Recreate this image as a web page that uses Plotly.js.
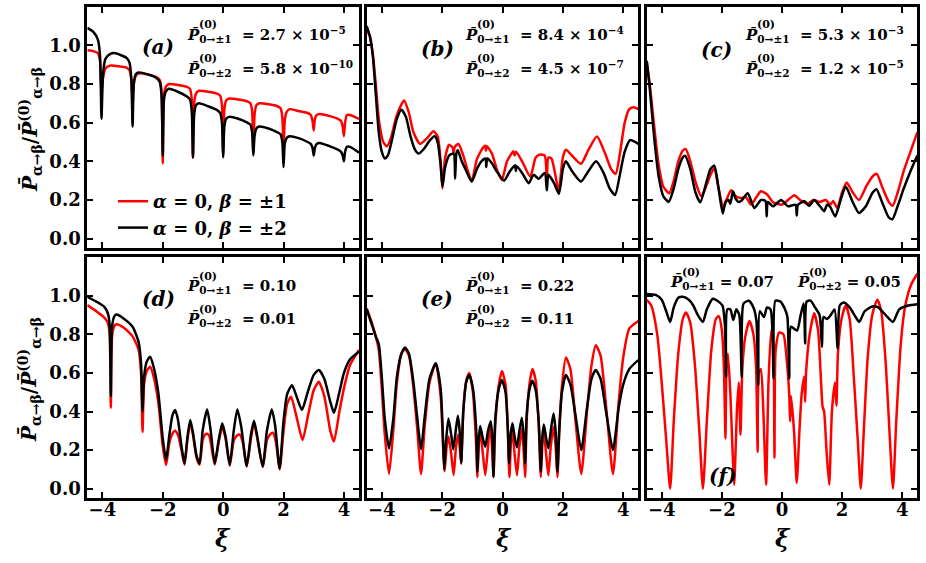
<!DOCTYPE html>
<html>
<head>
<meta charset="utf-8">
<script src="https://cdn.plot.ly/plotly-3.0.1.min.js"></script>
<style>
  html, body { margin: 0; padding: 0; background: #fff; }
  #plot { width: 926px; height: 563px; }
</style>
</head>
<body>
<div id="plot"></div>
<script>
// ---- data (xi, normalised probability) ----
// panel (a)
var xiA = [-4.5,-4.3,-4.15,-4.08,-4.03,-3.98,-3.9,-3.75,-3.6,-3.4,-3.2,-3.1,-3.04,-3.0,-2.96,-2.9,-2.8,-2.5,-2.2,-2.1,-2.04,-2.0,-1.96,-1.9,-1.8,-1.5,-1.2,-1.1,-1.04,-1.0,-0.96,-0.9,-0.8,-0.5,-0.2,-0.1,-0.04,0.0,0.04,0.1,0.2,0.5,0.8,0.9,0.96,1.0,1.04,1.1,1.2,1.5,1.8,1.9,1.96,2.0,2.04,2.1,2.2,2.5,2.8,2.9,2.96,3.0,3.04,3.1,3.2,3.5,3.8,3.9,3.96,4.0,4.04,4.1,4.2,4.5];
var redA = [0.975,0.97,0.96,0.92,0.75,0.83,0.88,0.895,0.895,0.89,0.885,0.87,0.82,0.70,0.80,0.84,0.855,0.85,0.835,0.82,0.76,0.39,0.74,0.785,0.80,0.795,0.785,0.775,0.72,0.42,0.70,0.75,0.765,0.76,0.75,0.74,0.69,0.43,0.67,0.715,0.725,0.72,0.71,0.70,0.66,0.44,0.64,0.69,0.70,0.695,0.685,0.675,0.63,0.46,0.61,0.655,0.67,0.66,0.65,0.64,0.61,0.56,0.62,0.64,0.645,0.635,0.62,0.61,0.58,0.53,0.60,0.64,0.64,0.62];
var blackA = [1.09,1.07,1.03,0.95,0.62,0.85,0.93,0.955,0.96,0.95,0.935,0.91,0.82,0.58,0.80,0.85,0.86,0.85,0.83,0.81,0.74,0.43,0.72,0.76,0.775,0.76,0.735,0.72,0.66,0.42,0.64,0.69,0.70,0.685,0.665,0.65,0.60,0.42,0.58,0.62,0.63,0.62,0.60,0.59,0.55,0.43,0.53,0.57,0.58,0.57,0.55,0.54,0.50,0.37,0.49,0.52,0.53,0.52,0.50,0.49,0.47,0.43,0.47,0.49,0.495,0.48,0.46,0.45,0.43,0.40,0.45,0.475,0.475,0.445];

// panel (b)
var xiRedB = [-4.5,-4.4,-4.3,-4.2,-4.1,-3.95,-3.83,-3.7,-3.5,-3.26,-3.1,-2.95,-2.73,-2.5,-2.29,-2.15,-2.05,-1.99,-1.9,-1.77,-1.65,-1.62,-1.58,-1.46,-1.3,-1.15,-1.02,-0.85,-0.65,-0.57,-0.55,-0.52,-0.35,-0.17,-0.02,0.15,0.36,0.4,0.45,0.65,0.92,1.1,1.25,1.4,1.47,1.52,1.62,1.75,1.86,2.0,2.1,2.3,2.6,2.85,3.13,3.4,3.6,3.75,3.9,4.05,4.2,4.35,4.5];
var redB = [1.08,1.05,0.96,0.80,0.62,0.50,0.477,0.52,0.64,0.715,0.65,0.55,0.49,0.52,0.555,0.53,0.40,0.26,0.42,0.486,0.47,0.445,0.475,0.49,0.43,0.35,0.297,0.41,0.47,0.48,0.455,0.478,0.44,0.35,0.305,0.40,0.452,0.43,0.45,0.40,0.32,0.42,0.435,0.43,0.28,0.42,0.415,0.33,0.244,0.42,0.46,0.43,0.387,0.46,0.528,0.44,0.36,0.335,0.45,0.60,0.67,0.68,0.67];
var xiBlackB = [-4.5,-4.4,-4.3,-4.2,-4.1,-4.0,-3.9,-3.8,-3.65,-3.5,-3.35,-3.2,-3.05,-2.9,-2.78,-2.6,-2.4,-2.25,-2.15,-2.05,-1.99,-1.9,-1.77,-1.62,-1.57,-1.53,-1.48,-1.35,-1.2,-1.02,-0.85,-0.7,-0.56,-0.54,-0.5,-0.35,-0.2,0.05,0.25,0.42,0.44,0.47,0.65,0.87,1.03,1.2,1.4,1.47,1.52,1.7,1.87,2.0,2.1,2.3,2.6,2.85,3.1,3.35,3.55,3.73,3.9,4.05,4.23,4.5];
var blackB = [1.10,1.05,0.95,0.75,0.55,0.45,0.415,0.43,0.52,0.62,0.667,0.63,0.53,0.46,0.44,0.465,0.51,0.53,0.50,0.38,0.27,0.37,0.43,0.44,0.31,0.44,0.457,0.40,0.35,0.295,0.36,0.40,0.415,0.37,0.415,0.39,0.35,0.30,0.35,0.38,0.35,0.375,0.34,0.287,0.33,0.31,0.34,0.25,0.33,0.29,0.232,0.36,0.40,0.35,0.295,0.35,0.40,0.34,0.26,0.226,0.34,0.45,0.51,0.49];

// panel (c)
var xiRedC = [-4.5,-4.4,-4.25,-4.1,-3.95,-3.75,-3.6,-3.45,-3.3,-3.2,-3.05,-2.85,-2.68,-2.5,-2.38,-2.25,-2.12,-1.95,-1.85,-1.69,-1.55,-1.36,-1.2,-1.03,-0.85,-0.7,-0.5,-0.31,0.0,0.2,0.41,0.6,0.85,1.05,1.25,1.46,1.6,1.7,1.84,2.0,2.15,2.35,2.56,2.8,3.0,3.15,3.35,3.55,3.68,3.85,4.05,4.25,4.5];
var redC = [0.92,0.80,0.58,0.38,0.27,0.235,0.30,0.40,0.455,0.463,0.40,0.28,0.218,0.28,0.33,0.364,0.27,0.157,0.20,0.25,0.22,0.21,0.215,0.176,0.215,0.245,0.23,0.19,0.176,0.20,0.225,0.20,0.18,0.20,0.19,0.20,0.175,0.195,0.158,0.24,0.29,0.24,0.20,0.27,0.32,0.335,0.26,0.19,0.17,0.24,0.35,0.44,0.55];
var xiBlackC = [-4.5,-4.4,-4.25,-4.1,-3.95,-3.77,-3.6,-3.45,-3.3,-3.22,-3.05,-2.88,-2.72,-2.5,-2.38,-2.25,-2.12,-1.97,-1.88,-1.78,-1.72,-1.63,-1.55,-1.45,-1.36,-1.14,-0.92,-0.7,-0.55,-0.51,-0.47,-0.3,-0.03,0.2,0.45,0.49,0.53,0.75,0.9,1.07,1.25,1.4,1.5,1.6,1.77,1.95,2.12,2.35,2.56,2.8,3.0,3.14,3.35,3.55,3.67,3.85,4.05,4.25,4.5];
var blackC = [0.92,0.78,0.52,0.32,0.22,0.19,0.26,0.36,0.42,0.428,0.36,0.24,0.188,0.30,0.36,0.378,0.27,0.13,0.19,0.20,0.18,0.245,0.21,0.19,0.195,0.235,0.158,0.20,0.195,0.115,0.19,0.167,0.20,0.167,0.175,0.12,0.175,0.193,0.17,0.20,0.17,0.142,0.175,0.165,0.115,0.20,0.27,0.19,0.133,0.17,0.235,0.256,0.18,0.11,0.10,0.17,0.26,0.34,0.43];

// panel (d)
var xiRedD = [-4.5,-4.2,-3.95,-3.82,-3.76,-3.72,-3.68,-3.6,-3.53,-3.3,-3.0,-2.8,-2.72,-2.67,-2.62,-2.53,-2.42,-2.3,-2.15,-2.0,-1.89,-1.78,-1.68,-1.6,-1.5,-1.38,-1.28,-1.18,-1.09,-1.0,-0.88,-0.78,-0.68,-0.6,-0.53,-0.45,-0.28,-0.15,-0.03,0.08,0.22,0.35,0.45,0.55,0.65,0.78,0.92,1.02,1.12,1.31,1.45,1.55,1.65,1.75,1.87,2.0,2.12,2.25,2.42,2.63,2.8,3.0,3.17,3.35,3.55,3.67,3.85,4.0,4.2,4.5];
var redD = [0.952,0.92,0.89,0.86,0.80,0.42,0.79,0.845,0.853,0.836,0.79,0.72,0.60,0.295,0.54,0.61,0.632,0.58,0.45,0.22,0.123,0.24,0.285,0.30,0.28,0.20,0.125,0.26,0.34,0.28,0.16,0.125,0.25,0.28,0.285,0.27,0.125,0.24,0.32,0.26,0.12,0.25,0.275,0.28,0.24,0.115,0.26,0.34,0.27,0.113,0.25,0.28,0.29,0.24,0.10,0.30,0.44,0.477,0.38,0.252,0.37,0.51,0.554,0.48,0.30,0.244,0.40,0.52,0.64,0.72];
var xiBlackD = [-4.5,-4.2,-3.95,-3.82,-3.76,-3.72,-3.68,-3.6,-3.53,-3.3,-3.0,-2.8,-2.72,-2.67,-2.62,-2.53,-2.42,-2.3,-2.15,-2.0,-1.89,-1.78,-1.68,-1.59,-1.5,-1.38,-1.28,-1.18,-1.09,-1.0,-0.88,-0.78,-0.68,-0.53,-0.42,-0.28,-0.15,-0.03,0.08,0.22,0.35,0.47,0.6,0.78,0.92,1.02,1.12,1.31,1.45,1.61,1.72,1.87,2.0,2.12,2.28,2.45,2.61,2.8,3.0,3.17,3.35,3.55,3.67,3.85,4.0,4.2,4.5];
var blackD = [0.995,0.97,0.945,0.91,0.85,0.48,0.84,0.895,0.903,0.883,0.84,0.76,0.65,0.40,0.58,0.66,0.684,0.63,0.50,0.26,0.149,0.28,0.38,0.408,0.36,0.22,0.131,0.27,0.356,0.29,0.17,0.131,0.30,0.411,0.31,0.131,0.25,0.339,0.27,0.123,0.30,0.411,0.32,0.117,0.28,0.352,0.28,0.114,0.30,0.411,0.33,0.105,0.35,0.49,0.537,0.47,0.408,0.50,0.59,0.615,0.57,0.45,0.394,0.50,0.60,0.67,0.71];

// panel (e)
var xiRedE = [-4.5,-4.35,-4.2,-4.1,-4.0,-3.9,-3.76,-3.62,-3.5,-3.35,-3.23,-3.1,-2.95,-2.82,-2.7,-2.58,-2.42,-2.21,-2.05,-1.92,-1.85,-1.79,-1.7,-1.62,-1.55,-1.48,-1.42,-1.37,-1.3,-1.2,-1.1,-0.98,-0.88,-0.83,-0.79,-0.74,-0.65,-0.57,-0.48,-0.41,-0.35,-0.3,-0.24,-0.12,-0.02,0.1,0.18,0.23,0.28,0.33,0.4,0.48,0.56,0.64,0.7,0.75,0.8,0.9,0.99,1.1,1.2,1.27,1.32,1.37,1.45,1.52,1.6,1.69,1.76,1.82,1.88,1.97,2.1,2.25,2.42,2.61,2.8,2.95,3.09,3.25,3.45,3.66,3.85,4.0,4.2,4.5];
var redE = [0.935,0.87,0.79,0.72,0.52,0.28,0.076,0.30,0.55,0.70,0.725,0.69,0.52,0.30,0.076,0.32,0.55,0.65,0.48,0.09,0.22,0.27,0.18,0.07,0.20,0.28,0.22,0.13,0.40,0.56,0.60,0.50,0.25,0.06,0.22,0.30,0.18,0.07,0.22,0.33,0.22,0.06,0.33,0.54,0.61,0.54,0.28,0.06,0.24,0.30,0.18,0.07,0.22,0.31,0.20,0.06,0.35,0.55,0.62,0.56,0.33,0.06,0.22,0.30,0.17,0.07,0.22,0.32,0.22,0.06,0.30,0.53,0.68,0.62,0.35,0.076,0.40,0.64,0.744,0.69,0.40,0.076,0.45,0.68,0.83,0.87];
var xiBlackE = [-4.5,-4.35,-4.2,-4.1,-4.0,-3.9,-3.76,-3.62,-3.5,-3.35,-3.23,-3.1,-2.95,-2.82,-2.7,-2.58,-2.42,-2.21,-2.05,-1.97,-1.93,-1.87,-1.79,-1.7,-1.63,-1.55,-1.48,-1.42,-1.37,-1.3,-1.2,-1.1,-0.98,-0.87,-0.83,-0.79,-0.74,-0.65,-0.57,-0.48,-0.39,-0.33,-0.3,-0.24,-0.12,-0.02,0.1,0.18,0.22,0.27,0.33,0.4,0.48,0.56,0.64,0.7,0.75,0.8,0.9,0.99,1.1,1.2,1.27,1.31,1.37,1.45,1.52,1.6,1.69,1.76,1.82,1.88,1.97,2.1,2.25,2.42,2.61,2.8,2.95,3.09,3.25,3.45,3.66,3.85,4.0,4.2,4.5];
var blackE = [0.93,0.86,0.79,0.75,0.58,0.36,0.209,0.36,0.58,0.70,0.732,0.70,0.55,0.36,0.204,0.37,0.57,0.65,0.52,0.25,0.10,0.25,0.364,0.28,0.204,0.30,0.378,0.30,0.131,0.40,0.555,0.589,0.52,0.30,0.088,0.25,0.325,0.26,0.218,0.30,0.35,0.25,0.062,0.36,0.52,0.563,0.50,0.30,0.131,0.28,0.339,0.27,0.214,0.30,0.368,0.28,0.131,0.38,0.52,0.56,0.51,0.35,0.088,0.25,0.333,0.26,0.209,0.30,0.39,0.30,0.088,0.30,0.50,0.589,0.54,0.38,0.20,0.42,0.57,0.615,0.57,0.38,0.20,0.42,0.54,0.62,0.667];

// panel (f)
var xiRedF = [-4.5,-4.35,-4.15,-4.0,-3.85,-3.72,-3.6,-3.45,-3.3,-3.19,-3.05,-2.9,-2.75,-2.63,-2.5,-2.35,-2.2,-2.1,-2.0,-1.93,-1.88,-1.85,-1.8,-1.72,-1.65,-1.59,-1.5,-1.44,-1.38,-1.32,-1.22,-1.08,-0.95,-0.86,-0.81,-0.77,-0.7,-0.62,-0.53,-0.45,-0.36,-0.29,-0.25,-0.21,-0.09,0.05,0.15,0.24,0.27,0.3,0.4,0.49,0.58,0.66,0.74,0.77,0.8,0.92,1.07,1.2,1.3,1.35,1.4,1.48,1.57,1.66,1.76,1.81,1.86,1.98,2.12,2.25,2.4,2.52,2.62,2.72,2.85,3.0,3.17,3.3,3.45,3.58,3.69,3.8,3.95,4.1,4.3,4.5];
var redF = [0.98,0.95,0.80,0.55,0.25,0.0,0.35,0.70,0.88,0.914,0.86,0.65,0.30,0.0,0.35,0.72,0.88,0.895,0.82,0.62,0.26,0.62,0.70,0.50,0.22,0.02,0.40,0.55,0.28,0.62,0.79,0.87,0.80,0.62,0.19,0.60,0.62,0.40,0.02,0.55,0.82,0.75,0.16,0.72,0.81,0.80,0.68,0.49,0.35,0.48,0.30,0.03,0.30,0.50,0.58,0.45,0.60,0.80,0.91,0.82,0.55,0.425,0.40,0.20,0.02,0.40,0.55,0.43,0.70,0.88,0.95,0.88,0.55,0.25,0.0,0.30,0.68,0.90,0.98,0.92,0.65,0.28,0.0,0.35,0.75,0.95,1.06,1.115];
var xiBlackF = [-4.5,-4.2,-4.0,-3.85,-3.72,-3.6,-3.45,-3.3,-3.1,-2.95,-2.8,-2.63,-2.5,-2.3,-2.15,-1.98,-1.9,-1.86,-1.82,-1.72,-1.62,-1.52,-1.42,-1.34,-1.28,-1.1,-0.95,-0.85,-0.79,-0.74,-0.6,-0.5,-0.38,-0.28,-0.22,-0.05,0.1,0.18,0.24,0.3,0.5,0.62,0.72,0.77,0.82,0.95,1.1,1.25,1.33,1.38,1.5,1.62,1.75,1.85,1.92,2.05,2.25,2.45,2.57,2.75,3.0,3.2,3.45,3.69,3.9,4.2,4.5];
var blackF = [1.01,1.005,0.98,0.92,0.865,0.94,0.99,0.995,0.98,0.95,0.90,0.865,0.93,0.985,0.975,0.95,0.85,0.58,0.93,0.93,0.875,0.93,0.90,0.58,0.96,0.975,0.94,0.87,0.537,0.92,0.89,0.94,0.93,0.572,0.975,0.97,0.93,0.89,0.572,0.84,0.82,0.90,0.96,0.753,0.97,0.975,0.94,0.90,0.735,0.89,0.88,0.90,0.93,0.727,0.95,0.965,0.94,0.89,0.865,0.92,0.945,0.94,0.90,0.865,0.93,0.95,0.957];

// text
var panelTags = ['(a)', '(b)', '(c)', '(d)', '(e)', '(f)'];
var plus1Values = ['2.7 × 10<sup>−5</sup>', '8.4 × 10<sup>−4</sup>', '5.3 × 10<sup>−3</sup>', '0.10', '0.22', '0.07'];
var plus2Values = ['5.8 × 10<sup>−10</sup>', '4.5 × 10<sup>−7</sup>', '1.2 × 10<sup>−5</sup>', '0.01', '0.11', '0.05'];
var seriesNames = ['<i>α</i> = 0, <i>β</i> = ±1', '<i>α</i> = 0, <i>β</i> = ±2'];
var xTicks = [-4, -2, 0, 2, 4];
var yTicks = [0, 0.2, 0.4, 0.6, 0.8, 1.0];

var panels = [
  [xiA, redA, xiA, blackA],
  [xiRedB, redB, xiBlackB, blackB],
  [xiRedC, redC, xiBlackC, blackC],
  [xiRedD, redD, xiBlackD, blackD],
  [xiRedE, redE, xiBlackE, blackE],
  [xiRedF, redF, xiBlackF, blackF]
];

// ---- layout helpers (pixel boxes of the six frames) ----
var W = 926, H = 563;
var colPx = [[87.3, 359], [366.7, 638.3], [646.7, 917.3]];
var rowPx = [[6.7, 248.3], [257.3, 498.3]];
var serif = 'DejaVu Serif, Liberation Serif, serif';
function px(x) { return x / W; }
function py(y) { return 1 - y / H; }

var traces = [];
var layout = {
  width: W, height: H,
  margin: {l: 0, r: 0, t: 0, b: 0},
  paper_bgcolor: '#fff', plot_bgcolor: '#fff',
  showlegend: true,
  legend: {
    x: px(113), y: py(183), xanchor: 'left', yanchor: 'top',
    bgcolor: 'rgba(0,0,0,0)', borderwidth: 0,
    font: {family: serif, size: 18, color: '#000', weight: 'bold'},
    tracegroupgap: 0
  },
  annotations: []
};

panels.forEach(function (p, i) {
  var row = Math.floor(i / 3), col = i % 3;
  var n = i === 0 ? '' : String(i + 1);
  var axStyle = {
    showline: true, linewidth: 3, linecolor: '#000', mirror: 'ticks',
    ticks: 'inside', ticklen: 6, tickwidth: 2, tickcolor: '#000',
    showgrid: false, zeroline: false,
    tickfont: {family: serif, size: 18, color: '#000', weight: 'bold'}
  };
  layout['xaxis' + n] = Object.assign({}, axStyle, {
    domain: [px(colPx[col][0]), px(colPx[col][1])],
    anchor: 'y' + n, range: [-4.5, 4.5],
    tickvals: xTicks, showticklabels: row === 1, ticklabelstandoff: -7
  });
  layout['yaxis' + n] = Object.assign({}, axStyle, {
    domain: [py(rowPx[row][1]), py(rowPx[row][0])],
    anchor: 'x' + n, range: [-0.05, 1.2],
    tickvals: yTicks, tickformat: '.1f', showticklabels: col === 0
  });

  traces.push({
    x: p[0], y: p[1], xaxis: 'x' + n, yaxis: 'y' + n,
    type: 'scatter', mode: 'lines', name: seriesNames[0],
    line: {color: '#ff0000', width: 2.5, shape: 'spline', smoothing: 0.6},
    showlegend: i === 0, hoverinfo: 'skip'
  });
  traces.push({
    x: p[2], y: p[3], xaxis: 'x' + n, yaxis: 'y' + n,
    type: 'scatter', mode: 'lines', name: seriesNames[1],
    line: {color: '#000000', width: 2.5, shape: 'spline', smoothing: 0.6},
    showlegend: i === 0, hoverinfo: 'skip'
  });
});

var labelFont = {family: serif, size: 15, color: '#000', weight: 'bold'};
function addP(xpx, ypx, sub, val, eq) {
  layout.annotations.push({
    xref: 'paper', yref: 'paper', x: px(xpx), y: py(ypx),
    xanchor: 'left', yanchor: 'middle', showarrow: false,
    text: '<i>P\u0304</i><sub>0→±' + sub + '</sub>' + eq + val, font: labelFont
  });
  layout.annotations.push({
    xref: 'paper', yref: 'paper', x: px(xpx), y: py(ypx),
    xanchor: 'left', yanchor: 'middle', showarrow: false,
    xshift: 12, yshift: 10,
    text: '(0)', font: {family: serif, size: 11, color: '#000', weight: 'bold'}
  });
}

// annotation positions (left edge of P, vertical centre) in pixels
var textLeft = [185, 463, 743, 185, 463];
var rowLine1 = [35, 286], rowLine2 = [68, 319];
for (var k = 0; k < 5; k++) {
  var r = Math.floor(k / 3);
  addP(textLeft[k], rowLine1[r], '1', plus1Values[k], '  = ');
  addP(textLeft[k], rowLine2[r], '2', plus2Values[k], '  = ');
}
addP(668, 282, '1', plus1Values[5], ' = ');
addP(795, 282, '2', plus2Values[5], ' = ');

var tagPos = [[158, 47], [437, 49], [716, 50], [158, 299], [437, 299], [723, 476]];
tagPos.forEach(function (t, i) {
  layout.annotations.push({
    xref: 'paper', yref: 'paper', x: px(t[0]), y: py(t[1]),
    xanchor: 'center', yanchor: 'middle', showarrow: false,
    text: '<i>' + panelTags[i] + '</i>',
    font: {family: serif, size: 20, color: '#000', weight: 'bold'}
  });
});

// axis titles
[130, 380].forEach(function (yc) {
  layout.annotations.push({
    xref: 'paper', yref: 'paper', x: px(30), y: py(yc),
    xanchor: 'center', yanchor: 'middle', showarrow: false, textangle: -90,
    text: '<i>P\u0304</i><sub>α→β</sub>/<i>P\u0304</i><sup>(0)</sup><sub>α→β</sub>',
    font: {family: serif, size: 20, color: '#000', weight: 'bold'}
  });
});
[223, 504, 783].forEach(function (xc) {
  layout.annotations.push({
    xref: 'paper', yref: 'paper', x: px(xc), y: py(538),
    xanchor: 'center', yanchor: 'middle', showarrow: false,
    text: '<i>ξ</i>',
    font: {family: serif, size: 24, color: '#000', weight: 'bold'}
  });
});

Plotly.newPlot('plot', traces, layout, {displayModeBar: false, staticPlot: true});
</script>
</body>
</html>
